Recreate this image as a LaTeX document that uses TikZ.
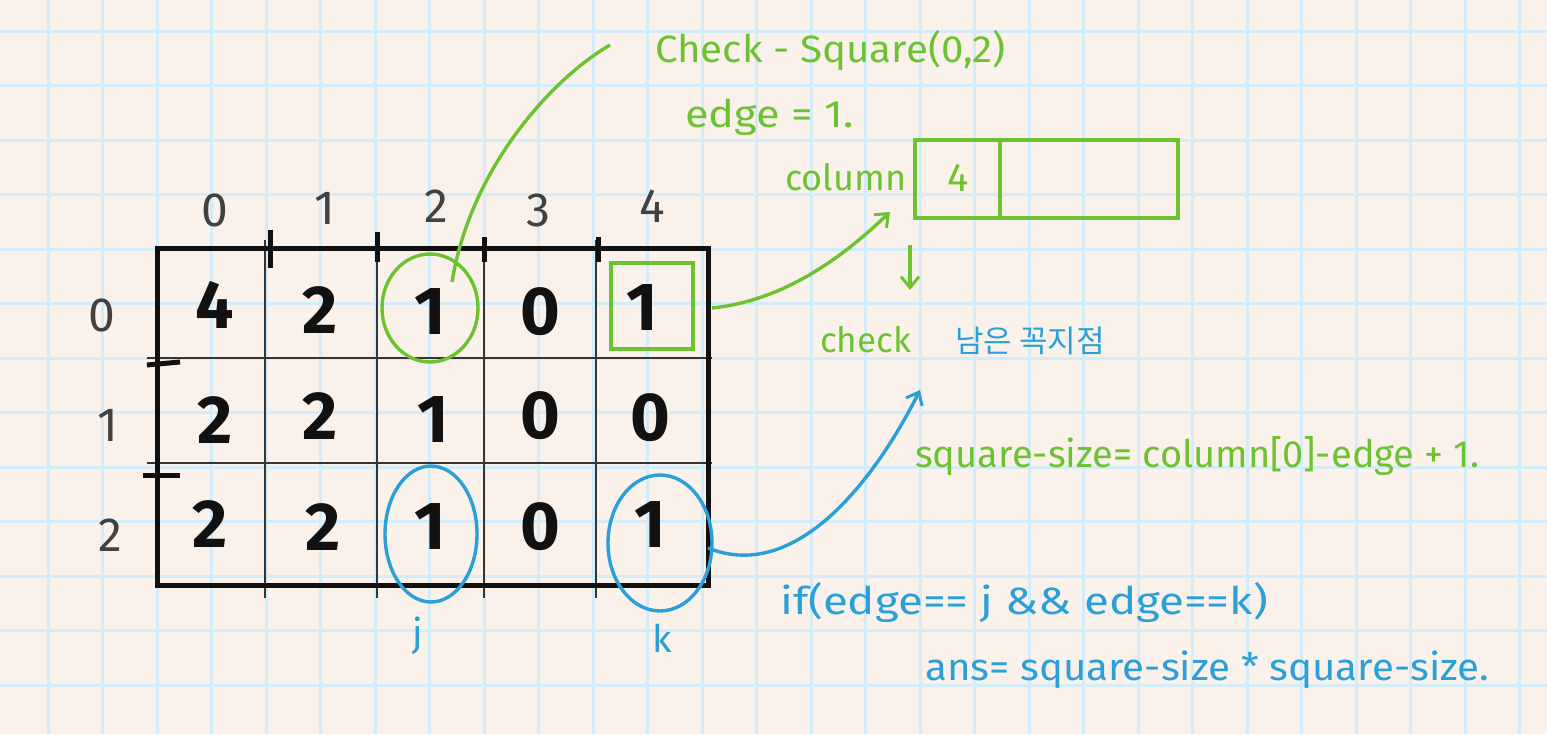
\documentclass[tikz,border=0pt]{standalone}
\usepackage{fontspec}
\setmainfont{Fira Sans}
\newfontfamily\krfont{Noto Sans CJK KR}
\usetikzlibrary{shapes.geometric,arrows.meta}
\definecolor{paper}{HTML}{FAF2EA}
\definecolor{gridc}{HTML}{D4EBFA}
\definecolor{hgreen}{HTML}{6CC230}
\definecolor{hblue}{HTML}{2A9FD8}
\definecolor{ink}{HTML}{111111}
\tikzset{
  note/.style={font=\fontsize{38}{44}\selectfont, anchor=base west, inner sep=0pt},
  gnote/.style={note, text=hgreen},
  bnote/.style={note, text=hblue},
  digit/.style={font=\fontsize{68}{76}\selectfont\bfseries, text=ink, inner sep=0pt},
  idx/.style={font=\fontsize{48}{54}\selectfont, text=ink!80, inner sep=0pt},
  gridline/.style={gridc, line width=3pt},
  innerline/.style={ink!85, line width=2.5pt},
  tick/.style={ink, line width=5pt},
  gstroke/.style={draw=hgreen, line width=3.4pt},
  bstroke/.style={draw=hblue, line width=3.4pt},
  barb/.style={-{Straight Barb[length=11pt,width=18pt,line width=3pt]}},
  gmark/.style={gstroke, ellipse, inner sep=0pt},
  bmark/.style={bstroke, ellipse, inner sep=0pt},
}
\begin{document}
\begin{tikzpicture}[x=1pt,y=-1pt]
\useasboundingbox (0,0) rectangle (1547,734);
\fill[paper] (0,0) rectangle (1547,734);
% graph paper
\foreach \i in {0,...,27} \draw[gridline] ({48.3+54.5*\i},0) -- ({48.3+54.5*\i},734);
\foreach \j in {0,...,12} \draw[gridline] (0,{31+54.5*\j}) -- (1547,{31+54.5*\j});

% table inner lines
\foreach \x in {265,377,484,596} \draw[innerline] (\x,240) -- (\x,598);
\foreach \y in {358,463} \draw[innerline] (147,\y) -- (712,\y);
% ticks
\draw[tick] (270,230) -- (270,268);
\draw[tick] (377,232) -- (377,262);
\draw[tick] (484,237) -- (484,262);
\draw[tick] (598,237) -- (598,262);
\draw[tick] (147,365) -- (180,362);
\draw[tick] (143,475) -- (180,475);
% outer frame
\draw[ink, line width=5pt] (157,248) rectangle (708,585);

% column / row indices
\node[idx] (k0) at (215,210) {0};
\node[idx] (k1) at (325,208) {1};
\node[idx] (k2) at (436,206) {2};
\node[idx] (k3) at (538,210) {3};
\node[idx] (k4) at (652,206) {4};
\node[idx] (r0) at (102,315) {0};
\node[idx] (r1) at (108,425) {1};
\node[idx] (r2) at (110,535) {2};

% cell values
\node[digit] (c00) at (215,305) {4};
\node[digit] (c01) at (320,310) {2};
\node[digit] (c02) at (430,312) {1};
\node[digit] (c03) at (540,312) {0};
\node[digit] (c04) at (642,308) {1};
\node[digit] (c10) at (215,420) {2};
\node[digit] (c11) at (320,416) {2};
\node[digit] (c12) at (433,420) {1};
\node[digit] (c13) at (540,416) {0};
\node[digit] (c14) at (650,418) {0};
\node[digit] (c20) at (210,524) {2};
\node[digit] (c21) at (323,527) {2};
\node[digit] (c22) at (430,527) {1};
\node[digit] (c23) at (540,527) {0};
\node[digit] (c24) at (650,525) {1};

% marks
\node[gmark, minimum width=96pt, minimum height=108pt] (gc) at (430,308) {};
\node[gstroke, rectangle, minimum width=82pt, minimum height=86pt] (gr) at (652,306) {};
\node[bmark, minimum width=92pt, minimum height=136pt] (bj) at (431,534) {};
\node[bmark, minimum width=104pt, minimum height=136pt] (bk) at (660,543) {};
\node[bnote, anchor=center] (lj) at (418,636) {j};
\node[bnote, anchor=center] (lk) at (662,638) {k};

% green notes
\node[gnote] (title) at (655,62) {\scalebox{1.06}[1]{Check - Square(0,2)}};
\node[gnote] (edge) at (685,127) {\scalebox{1.14}[1]{edge = 1.}};
\node[gnote, font=\fontsize{36}{42}\selectfont] (colw) at (785,190) {column};
\node[gstroke, rectangle, minimum width=263pt, minimum height=78pt, inner sep=0pt] (colbox) at (1046.5,179) {};
\draw[gstroke] (1000,142) -- (1000,216);
\node[gnote, anchor=center, font=\fontsize{40}{46}\selectfont] (four) at (958,178) {4};

\node[gnote, font=\fontsize{35}{42}\selectfont] (chk) at (820,352) {check};
\node[bnote, font=\krfont\fontsize{31}{36}\selectfont] (kor) at (955,352) {남은 꼭지점};

\node[gnote] (size) at (915,467) {square-size= column[0]-edge + 1.};
\node[bnote] (cond) at (780,614) {\scalebox{1.2}[1]{if(edge== j \&\& edge==k)}};
\node[bnote] (ans) at (925,680) {\scalebox{1.06}[1]{ans= square-size * square-size.}};

% connectors
\coordinate (gs) at (452,282);
\coordinate (ge) at (610,45);
\draw[gstroke] (gs) .. controls (470,170) and (550,80) .. (ge);

\coordinate (a1) at (712,308);
\coordinate (a2) at (890,212);
\draw[gstroke, barb] (a1) .. controls (790,300) and (850,250) .. (a2);

\coordinate (d1) at (910,245);
\coordinate (d2) at (910,290);
\draw[gstroke, barb] (d1) -- (d2);

\coordinate (b1) at (708,548);
\coordinate (b2) at (920,390);
\draw[bstroke, barb] (b1) .. controls (800,585) and (880,470) .. (b2);
\end{tikzpicture}
\end{document}
